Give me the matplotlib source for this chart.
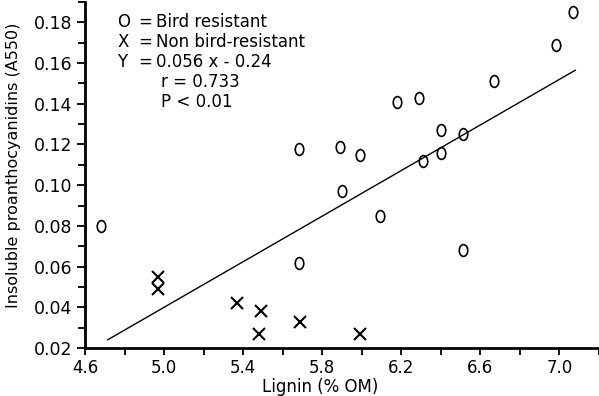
import numpy as np
import matplotlib
matplotlib.use('Agg')
import matplotlib.pyplot as plt
import matplotlib.path as mpath
from matplotlib.ticker import FixedLocator

# bird resistant samples (circles)
resistant_lignin = [4.68, 5.68, 5.68, 5.89, 5.90, 5.99, 6.09, 6.18, 6.29, 6.31,
                    6.40, 6.40, 6.51, 6.51, 6.67, 6.98, 7.07]
resistant_pa = [0.080, 0.118, 0.062, 0.119, 0.097, 0.115, 0.085, 0.141, 0.143, 0.112,
                0.127, 0.116, 0.125, 0.068, 0.151, 0.169, 0.185]

# non bird-resistant samples (crosses)
nonres_lignin = [4.97, 4.97, 5.37, 5.49, 5.48, 5.69, 5.99]
nonres_pa = [0.055, 0.049, 0.042, 0.038, 0.027, 0.033, 0.027]

slope = 0.056
intercept = -0.24
line_range = [4.715, 7.08]

x_major = [4.6, 5.0, 5.4, 5.8, 6.2, 6.6, 7.0]
x_labels = ['4.6', '5.0', '5.4', '5.8', '6.2', '6.6', '7.0']
x_minor = [4.8, 5.2, 5.6, 6.0, 6.4, 6.8, 7.2]
y_major = [0.02, 0.04, 0.06, 0.08, 0.10, 0.12, 0.14, 0.16, 0.18]
y_labels = ['0.02', '0.04', '0.06', '0.08', '0.10', '0.12', '0.14', '0.16', '0.18']
y_minor = [0.03, 0.05, 0.07, 0.09, 0.11, 0.13, 0.15, 0.17, 0.19]

W, H = 599, 396
fig = plt.figure(figsize=(W / 100, H / 100), dpi=100)
ax = fig.add_axes([85 / W, 48 / H, (599 - 85) / W, (348 - 2) / H])

# tall "O" shaped marker
circ = mpath.Path.unit_circle()
oval = mpath.Path(circ.vertices * np.array([0.72, 1.0]), circ.codes)

ax.plot(resistant_lignin, resistant_pa, linestyle='none', marker=oval,
        markersize=8.5, markerfacecolor='none', markeredgecolor='black',
        markeredgewidth=1.2)
ax.plot(nonres_lignin, nonres_pa, linestyle='none', marker='x',
        markersize=8, markeredgecolor='black', markeredgewidth=1.5)

lx = np.array(line_range)
ax.plot(lx, slope * lx + intercept, color='black', linewidth=1.0)

ax.set_xlim(4.6, 7.2)
ax.set_ylim(0.02, 0.19)

ax.xaxis.set_major_locator(FixedLocator(x_major))
ax.xaxis.set_minor_locator(FixedLocator(x_minor))
ax.set_xticklabels(x_labels)
ax.yaxis.set_major_locator(FixedLocator(y_major))
ax.yaxis.set_minor_locator(FixedLocator(y_minor))
ax.set_yticklabels(y_labels)

for s in ['top', 'right']:
    ax.spines[s].set_visible(False)
for s in ['left', 'bottom']:
    ax.spines[s].set_linewidth(2.0)

ax.tick_params(axis='both', which='both', direction='out', width=1.3, colors='black')
ax.tick_params(axis='x', which='both', length=5, pad=3, labelsize=12)
ax.tick_params(axis='y', which='major', length=6, pad=3, labelsize=12.5)
ax.tick_params(axis='y', which='minor', length=5)

fig.text(14 / W, 1 - 165 / H, 'Insoluble proanthocyanidins (A550)', rotation=90,
         ha='center', va='center', fontsize=11.5)
fig.text(320 / W, 1 - 387 / H, 'Lignin (% OM)', ha='center', va='center', fontsize=12)

legend_lines = [
    (117, 22, 'O'), (138, 22, '='), (156, 22, 'Bird resistant'),
    (117, 42, 'X'), (138, 42, '='), (156, 42, 'Non bird-resistant'),
    (117, 62, 'Y'), (138, 62, '='), (156, 62, '0.056 x - 0.24'),
    (161, 82, 'r = 0.733'),
    (161, 102, 'P < 0.01'),
]
for px, py, txt in legend_lines:
    fig.text(px / W, 1 - py / H, txt, ha='left', va='center', fontsize=12)

fig.savefig('out.png', dpi=100)
